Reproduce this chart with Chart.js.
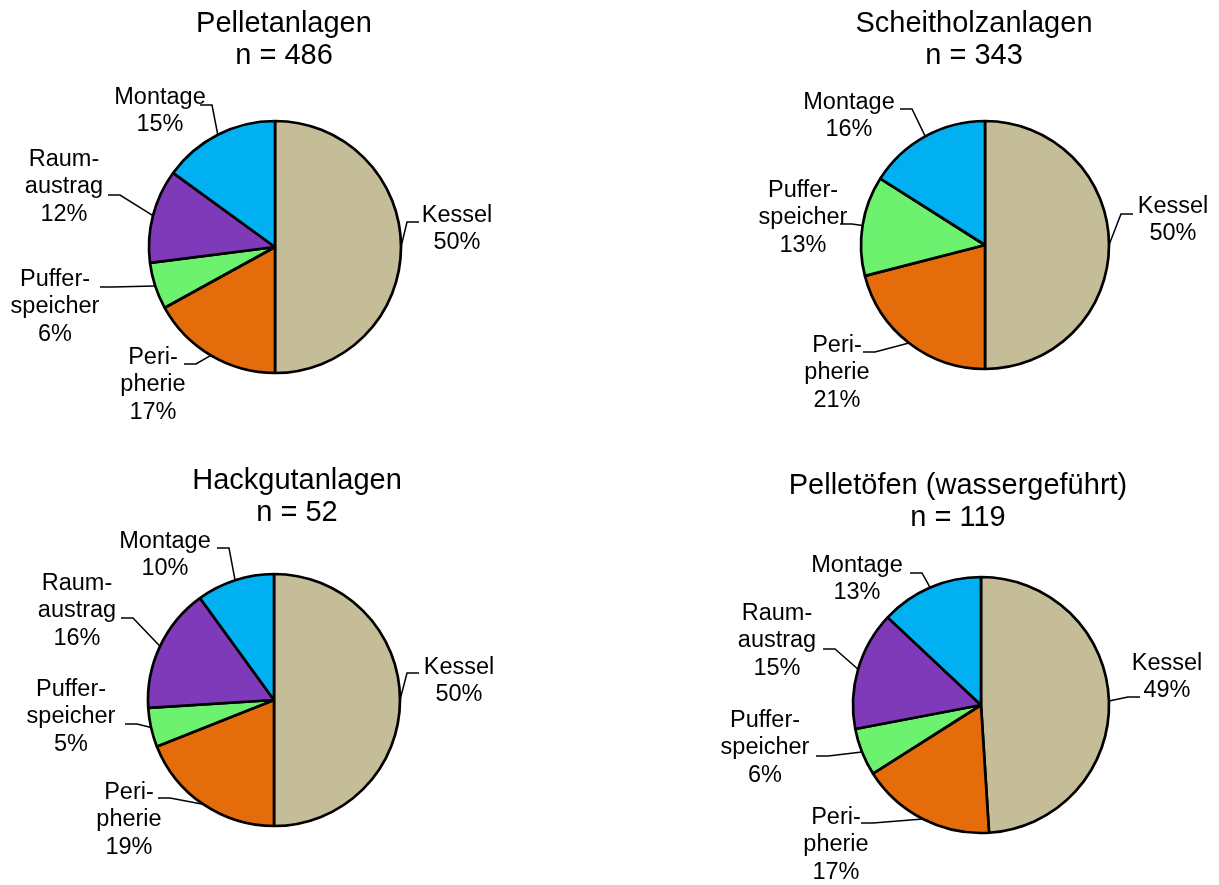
<!DOCTYPE html>
<html>
<head>
<meta charset="utf-8">
<title>Kostenanteile Heizanlagen</title>
<script src="https://cdn.jsdelivr.net/npm/chart.js@4.4.1/dist/chart.umd.min.js"></script>
<style>
  html, body { margin: 0; padding: 0; background: #fff; }
  #wrap { position: relative; width: 1219px; height: 885px; overflow: hidden; }
  canvas { position: absolute; }
</style>
</head>
<body>
<div id="wrap">
  <canvas id="pellet" width="609" height="442" style="left:0;top:0"></canvas>
  <canvas id="scheitholz" width="610" height="442" style="left:609px;top:0"></canvas>
  <canvas id="hackgut" width="609" height="443" style="left:0;top:442px"></canvas>
  <canvas id="ofen" width="610" height="443" style="left:609px;top:442px"></canvas>
</div>
<script>
// ---- data ----
const categoriesFull = ['Kessel', 'Peripherie', 'Pufferspeicher', 'Raumaustrag', 'Montage'];
const categoriesScheitholz = ['Kessel', 'Peripherie', 'Pufferspeicher', 'Montage'];

const pelletValues = [50, 17, 6, 12, 15];
const scheitholzValues = [50, 21, 13, 16];
const hackgutValues = [50, 19, 5, 16, 10];
const ofenValues = [49, 17, 6, 15, 13];

const titles = {
  pellet: ['Pelletanlagen', 'n = 486'],
  scheitholz: ['Scheitholzanlagen', 'n = 343'],
  hackgut: ['Hackgutanlagen', 'n = 52'],
  ofen: ['Pelletöfen (wassergeführt)', 'n = 119']
};

// hyphenated label text as printed in the chart
const labelText = {
  Kessel: ['Kessel'],
  Peripherie: ['Peri-', 'pherie'],
  Pufferspeicher: ['Puffer-', 'speicher'],
  Raumaustrag: ['Raum-', 'austrag'],
  Montage: ['Montage']
};

const colors = {
  Kessel: '#C4BD97',
  Peripherie: '#E46C0A',
  Pufferspeicher: '#6DF270',
  Raumaustrag: '#7F3AB9',
  Montage: '#00B0F0'
};

// ---- layout (page px; label/elbow offsets relative to the pie centre) ----
const fontFamily = "'Liberation Sans', Arial, sans-serif";

const layouts = {
  pellet: {
    box: [0, 0], center: [275, 247], radius: 126, titleAt: [9, -223],
    labelAt: [[182, -18], [-122, 138], [-220, 60], [-211, -60], [-115, -136]],
    elbow:   [[132, -25], [-79, 117], [-163, 40], [-155, -52], [-63, -142]]
  },
  scheitholz: {
    box: [609, 0], center: [985, 245], radius: 124, titleAt: [-11, -221],
    labelAt: [[188, -25], [-148, 128], [-182, -27], [-136, -129]],
    elbow:   [[136, -31], [-110, 107], [-133, -21], [-73, -136]]
  },
  hackgut: {
    box: [0, 442], center: [274, 700], radius: 126, titleAt: [23, -219],
    labelAt: [[185, -19], [-145, 120], [-203, 17], [-197, -89], [-109, -145]],
    elbow:   [[133, -27], [-104, 98], [-137, 24], [-141, -82], [-45, -152]]
  },
  ofen: {
    box: [609, 442], center: [981, 705], radius: 128, titleAt: [-23, -219],
    labelAt: [[186, -28], [-145, 140], [-216, 43], [-204, -64], [-124, -126]],
    elbow:   [[147, -8], [-108, 118], [-153, 51], [-146, -56], [-59, -132]]
  }
};

// titles + callout labels with leader lines
const calloutPlugin = {
  id: 'callouts',
  afterDraw(chart, args, opts) {
    const ctx = chart.ctx;
    const meta = chart.getDatasetMeta(0);
    const values = chart.data.datasets[0].data;
    const total = values.reduce((a, b) => a + b, 0);
    const cx = (chart.chartArea.left + chart.chartArea.right) / 2;
    const cy = (chart.chartArea.top + chart.chartArea.bottom) / 2;

    ctx.save();
    ctx.fillStyle = '#000';
    ctx.textAlign = 'center';
    ctx.textBaseline = 'middle';

    ctx.font = `29px ${fontFamily}`;
    opts.title.forEach((line, i) => {
      ctx.fillText(line, cx + opts.titleAt[0], cy + opts.titleAt[1] + i * 31.5);
    });

    ctx.font = `23.5px ${fontFamily}`;
    ctx.strokeStyle = '#000';
    ctx.lineWidth = 1.5;
    const lh = 27.5;

    meta.data.forEach((arc, i) => {
      const p = arc.getProps(['x', 'y', 'startAngle', 'endAngle', 'outerRadius'], true);
      const mid = (p.startAngle + p.endAngle) / 2;
      const ax = p.x + Math.cos(mid) * p.outerRadius;
      const ay = p.y + Math.sin(mid) * p.outerRadius;
      const [lx, ly] = opts.labelAt[i];
      const [ex, ey] = opts.elbow[i];
      const side = lx < 0 ? -1 : 1;

      ctx.beginPath();
      ctx.moveTo(ax, ay);
      ctx.lineTo(p.x + ex, p.y + ey);
      ctx.lineTo(p.x + ex + side * 12, p.y + ey);
      ctx.stroke();

      const cat = chart.data.labels[i];
      const lines = [...labelText[cat], Math.round(values[i] / total * 100) + '%'];
      const top = p.y + ly - (lines.length - 1) * lh / 2;
      lines.forEach((t, k) => ctx.fillText(t, p.x + lx, top + k * lh));
    });
    ctx.restore();
  }
};

function renderPie(id, cats, values) {
  const L = layouts[id];
  const canvas = document.getElementById(id);
  const s = L.radius + 4;
  const lx = L.center[0] - L.box[0];
  const ly = L.center[1] - L.box[1];

  return new Chart(canvas, {
    type: 'pie',
    data: {
      labels: cats,
      datasets: [{
        data: values,
        backgroundColor: cats.map(c => colors[c]),
        borderColor: '#000',
        borderWidth: 2.7
      }]
    },
    options: {
      responsive: false,
      animation: false,
      radius: L.radius,
      layout: {
        padding: {
          left: lx - s,
          right: canvas.width - (lx + s),
          top: ly - s,
          bottom: canvas.height - (ly + s)
        }
      },
      plugins: {
        legend: { display: false },
        tooltip: { enabled: false },
        title: { display: false },
        callouts: {
          title: titles[id],
          titleAt: L.titleAt,
          labelAt: L.labelAt,
          elbow: L.elbow
        }
      }
    },
    plugins: [calloutPlugin]
  });
}

renderPie('pellet', categoriesFull, pelletValues);
renderPie('scheitholz', categoriesScheitholz, scheitholzValues);
renderPie('hackgut', categoriesFull, hackgutValues);
renderPie('ofen', categoriesFull, ofenValues);
</script>
</body>
</html>
